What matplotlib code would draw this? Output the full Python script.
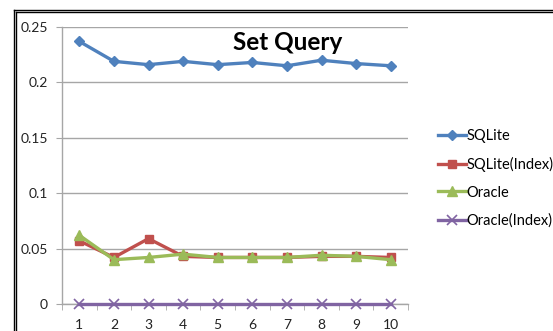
import matplotlib.pyplot as plt
from matplotlib.lines import Line2D

# Query runs and timings (seconds)
runs = [1, 2, 3, 4, 5, 6, 7, 8, 9, 10]
sqlite = [0.237, 0.219, 0.216, 0.219, 0.216, 0.218, 0.215, 0.220, 0.217, 0.215]
sqlite_index = [0.057, 0.042, 0.059, 0.043, 0.042, 0.042, 0.042, 0.043, 0.043, 0.042]
oracle = [0.062, 0.040, 0.042, 0.045, 0.042, 0.042, 0.042, 0.044, 0.043, 0.040]
oracle_index = [0.0, 0.0, 0.0, 0.0, 0.0, 0.0, 0.0, 0.0, 0.0, 0.0]
y_ticks = [0, 0.05, 0.1, 0.15, 0.2, 0.25]
y_labels = ["0", "0.05", "0.1", "0.15", "0.2", "0.25"]

plt.rcParams['font.family'] = ['Lato', 'DejaVu Sans']

fig = plt.figure(figsize=(5.53, 3.31), dpi=100)
ax = fig.add_axes([62 / 553, 1 - 304 / 331, 346 / 553, 277 / 331])

grid_c = '#a6a6a6'
ax.plot(runs, sqlite, color='#4f81bd', lw=2.4, marker='D', ms=5, label='SQLite')
ax.plot(runs, sqlite_index, color='#c0504d', lw=2.4, marker='s', ms=6, label='SQLite(Index)')
ax.plot(runs, oracle, color='#9bbb59', lw=2.4, marker='^', ms=6.5, label='Oracle')
ax.plot(runs, oracle_index, color='#8064a2', lw=2.4, marker='x', ms=6.5, mew=1.2,
        label='Oracle(Index)', clip_on=False, zorder=5)

ax.set_xlim(0.5, 10.5)
ax.set_ylim(0, 0.25)
ax.set_xticks(runs)
ax.set_xticks([r + 0.5 for r in [0] + runs], minor=True)
ax.set_yticks(y_ticks)
ax.set_yticklabels(y_labels)
ax.tick_params(axis='x', which='major', length=0, pad=11, labelsize=10, colors='#222222')
ax.tick_params(axis='x', which='minor', length=4, direction='out', color=grid_c)
ax.tick_params(axis='y', length=4, direction='out', color=grid_c, pad=6,
               labelsize=10, colors='#222222')
ax.grid(axis='y', color=grid_c, lw=1)
ax.set_axisbelow(True)
for side in ['top', 'right']:
    ax.spines[side].set_visible(False)
for side in ['left', 'bottom']:
    ax.spines[side].set_color(grid_c)
    ax.spines[side].set_linewidth(1)

fig.text(288 / 553, 1 - 42 / 331, 'Set Query', fontsize=17.5, fontweight='bold',
         ha='center', va='center', color='black')

ax.legend(loc='upper left', bbox_to_anchor=(431 / 553, 1 - 121.5 / 331),
          bbox_transform=fig.transFigure, frameon=False, fontsize=10.5,
          handlelength=1.9, handletextpad=0.05, labelspacing=0.95, borderpad=0)

# double border around the chart
for off in (13.5, 15.5):
    fig.add_artist(Line2D([off / 553, 1], [1 - (off - 3.5) / 331] * 2,
                          transform=fig.transFigure, color='black', lw=1))
    fig.add_artist(Line2D([off / 553] * 2, [0, 1 - (off - 3.5) / 331],
                          transform=fig.transFigure, color='black', lw=1))

fig.savefig('out.png', dpi=100)
